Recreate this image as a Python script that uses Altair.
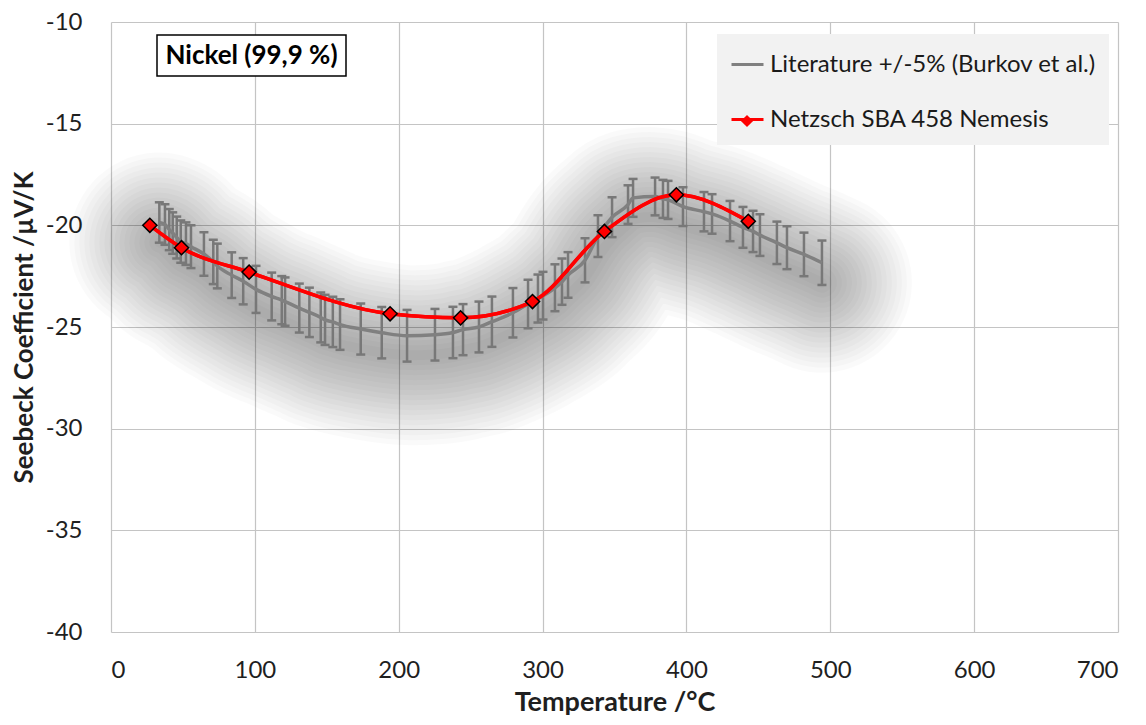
import altair as alt
import pandas as pd

# ---- data ----
lit_T = [33.6, 37.5, 40.5, 42.9, 45.7, 48.5, 52.1, 55.6, 64.6, 71.1, 73.9, 83.9, 91.9,
         100.8, 111.7, 118.7, 121.0, 130.9, 137.9, 145.8, 148.8, 154.2, 159.2, 173.6,
         188.2, 205.8, 225.2, 237.7, 244.7, 255.8, 264.8, 279.4, 289.9, 296.8, 300.3,
         308.6, 313.5, 317.7, 329.5, 338.5, 348.3, 359.4, 362.9, 378.2, 383.7, 387.2,
         397.6, 412.2, 417.8, 430.3, 439.3, 446.3, 451.1, 462.9, 469.9, 481.7, 494.2]
lit_S = [-19.86, -19.96, -20.21, -20.38, -20.6, -20.8, -20.9, -21.05, -21.41, -21.8,
         -22.0, -22.45, -22.75, -23.15, -23.5, -23.68, -23.75, -24.07, -24.28, -24.53,
         -24.65, -24.75, -24.88, -25.1, -25.28, -25.43, -25.38, -25.27, -25.13, -25.0,
         -24.74, -24.3, -23.87, -23.6, -23.46, -23.07, -22.77, -22.44, -21.72, -20.53,
         -19.6, -18.98, -18.65, -18.58, -18.7, -18.75, -19.08, -19.33, -19.44, -19.79,
         -20.1, -20.3, -20.48, -20.86, -21.1, -21.43, -21.84]

net_T = [27, 49, 96, 194, 243, 293, 343, 393, 443]
net_S = [-20.0, -21.1, -22.3, -24.35, -24.55, -23.75, -20.3, -18.5, -19.8]

LIT = "Literature +/-5% (Burkov et al.)"
NET = "Netzsch SBA 458 Nemesis"
series_names = [LIT, NET]
series_colors = ["#808080", "#FF0000"]
label_text = "Nickel (99,9 %)"
x_ticks = [0, 100, 200, 300, 400, 500, 600, 700]
y_ticks = [-40, -35, -30, -25, -20, -15, -10]
x_title = "Temperature /°C"
y_title = "Seebeck Coefficient /µV/K"

lit = pd.DataFrame({"T": lit_T, "S": lit_S, "series": LIT})
net = pd.DataFrame({"T": net_T, "S": net_S, "series": NET, "marker": NET})
both = pd.concat([lit, net], ignore_index=True)

FONT = "Lato"

xs = alt.Scale(domain=[0, 700], nice=False)
ys = alt.Scale(domain=[-40, -10], nice=False)
x_axis = alt.Axis(values=x_ticks, title=x_title, labelFontSize=24, titleFontSize=27,
                  labelPadding=26, titlePadding=7, grid=True,
                  labelExpr="toString(datum.value)")
y_axis = alt.Axis(values=y_ticks, title=y_title, labelFontSize=24, titleFontSize=26,
                  labelPadding=29, titlePadding=8, grid=True,
                  labelExpr="toString(datum.value)")

X = alt.X("T:Q", scale=xs, axis=x_axis)
Y = alt.Y("S:Q", scale=ys, axis=y_axis)

# soft shadow under the literature curve
shadow_layers = []
for w in range(180, 9, -10):
    shadow_layers.append(
        alt.Chart(lit).mark_line(interpolate="basis", strokeWidth=w, color="#000000",
                                 opacity=0.021, strokeCap="round", strokeJoin="round",
                                 yOffset=20)
        .encode(x=X, y=Y)
    )

lines = alt.Chart(both).mark_line(interpolate="monotone", strokeWidth=3.5).encode(
    x=X, y=Y,
    color=alt.Color(
        "series:N",
        scale=alt.Scale(domain=series_names, range=series_colors),
        legend=alt.Legend(
            title=None, orient="none", legendX=606, legendY=12,
            fillColor="#F2F2F2", padding=13, symbolType="stroke",
            symbolSize=1024, symbolStrokeWidth=3, labelFont=FONT, labelFontSize=24,
            labelColor="#1A1A1A", labelLimit=0, labelOffset=5, rowPadding=25,
        ),
    ),
    order="T:Q",
)

err_base = alt.Chart(lit).transform_calculate(
    lo="datum.S * 1.05", hi="datum.S * 0.95")
err_rule = err_base.mark_rule(color="#787878", strokeWidth=2.5).encode(
    x=X, y="lo:Q", y2="hi:Q")
cap_lo = err_base.mark_rule(color="#787878", strokeWidth=2.5, xOffset=-4.5, x2Offset=4.5).encode(
    x=X, x2="T:Q", y=alt.Y("lo:Q", scale=ys))
cap_hi = err_base.mark_rule(color="#787878", strokeWidth=2.5, xOffset=-4.5, x2Offset=4.5).encode(
    x=X, x2="T:Q", y=alt.Y("hi:Q", scale=ys))

red_line = alt.Chart(net).mark_line(interpolate="monotone", strokeWidth=3.5,
                                    color="#FF0000").encode(x=X, y=Y)
diamonds = alt.Chart(net).mark_point(filled=True, fill="#FF0000",
                                     stroke="#000000", strokeWidth=1.5, size=200,
                                     opacity=1).encode(
    x=X, y=Y,
    shape=alt.Shape("marker:N", scale=alt.Scale(domain=[NET], range=["diamond"]),
                    legend=alt.Legend(title=None, orient="none", legendX=629, legendY=92,
                                      padding=0, symbolSize=150, symbolFillColor="#FF0000",
                                      symbolStrokeColor="#000000", symbolStrokeWidth=1.3,
                                      labelExpr="''", labelFontSize=12)),
)

ann_box = alt.Chart(pd.DataFrame({"t": [label_text]})).mark_rect(
    fill="white", stroke="black", strokeWidth=1.5).encode(
    x=alt.value(46), x2=alt.value(235), y=alt.value(13), y2=alt.value(54))
ann_text = alt.Chart(pd.DataFrame({"t": [label_text]})).mark_text(
    font=FONT, fontSize=26, fontWeight="bold", color="black", align="center",
    baseline="middle").encode(x=alt.value(140.5), y=alt.value(34), text="t:N")

chart = alt.layer(
    *shadow_layers, err_rule, cap_lo, cap_hi, lines, red_line, diamonds, ann_box, ann_text
).properties(
    width=1007, height=610, autosize="none",
    padding={"left": 103, "top": 14, "right": 20, "bottom": 85},
    background="white",
).configure_view(strokeWidth=0).configure_axis(
    domain=False, ticks=False, gridColor="#C4C4C4", gridWidth=1.2,
    labelFont=FONT, titleFont=FONT, labelColor="#1F1F1F", titleColor="#1F1F1F",
    titleFontWeight="bold",
)

chart.save("out.html", embed_options={"renderer": "svg", "actions": False})
